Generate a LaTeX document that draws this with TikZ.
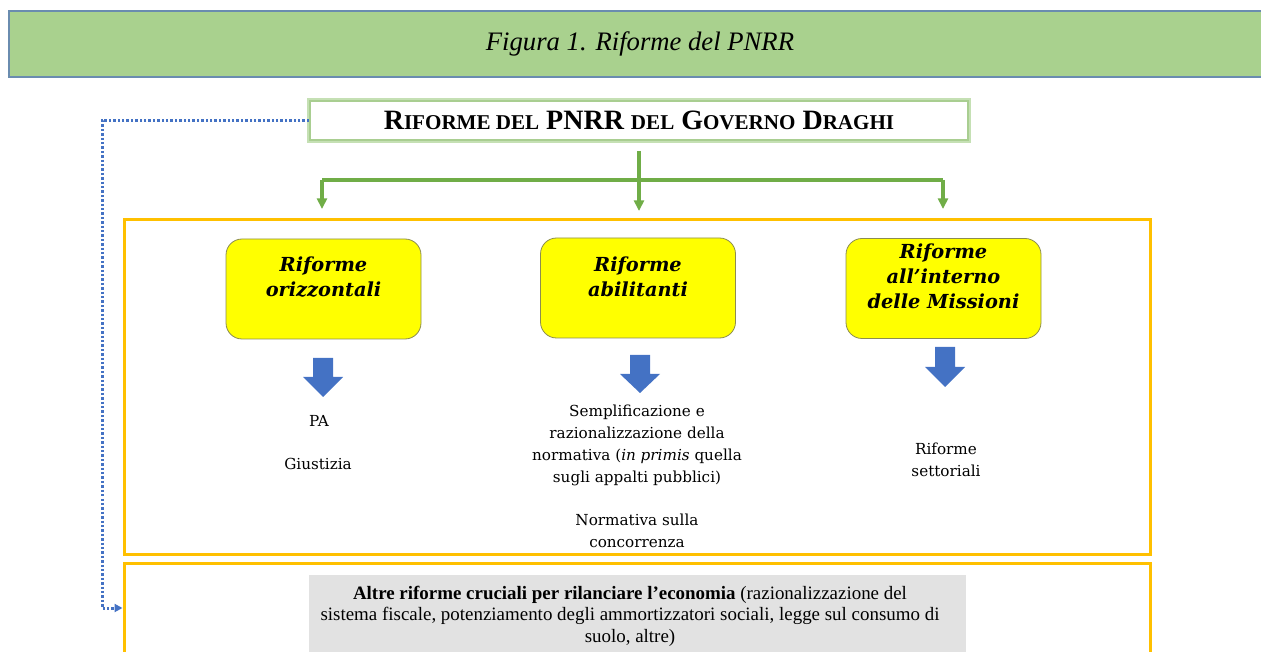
\documentclass[tikz,border=0pt]{standalone}
\usepackage{fontspec}
\setmainfont{DejaVu Serif}
\newfontfamily\libserif{Liberation Serif}
\usetikzlibrary{arrows.meta}
\definecolor{bandgreen}{HTML}{A9D18E}
\definecolor{bandedge}{HTML}{6A8CAF}
\definecolor{lgreen}{HTML}{70AD47}
\definecolor{glowgreen}{HTML}{C5E0B4}
\definecolor{gold}{HTML}{FFC000}
\definecolor{ablue}{HTML}{4472C4}
\definecolor{ybox}{HTML}{FFFF00}
\definecolor{yedge}{HTML}{8C8C50}
\definecolor{greytex}{HTML}{E2E2E2}
\newcommand{\fsc}[2]{#1{\fontsize{15.8}{18}\selectfont #2}}
\tikzset{
  gline/.style={draw=lgreen, line width=2.4pt},
  garrow/.style={gline, -{Triangle[width=7.5pt,length=8pt]}},
  goldbox/.style={draw=gold, line width=2.25pt, minimum width=769.5pt},
  ybox/.style={draw=yedge, fill=ybox, rounded corners=12pt, line width=0.6pt,
    minimum width=146.25pt, minimum height=75pt},
  ytext/.style={align=center, font=\fontsize{14.5}{18.75}\selectfont\bfseries\itshape},
  body/.style={align=center, font=\fontsize{11.4}{16.5}\selectfont},
  blockarrow/.style={fill=ablue},
}
\begin{document}
\begin{tikzpicture}[x=0.75pt,y=-0.75pt]
\useasboundingbox (0,0) rectangle (1261,652);
\clip (0,0) rectangle (1261,652);
% title band
\fill[bandgreen] (9,11) rectangle (1261,77);
\draw[bandedge, line width=0.9pt] (1261,11) -- (9,11) -- (9,77) -- (1261,77);
\node[font=\libserif\itshape\fontsize{20}{24}\selectfont] (title) at (640,44) {Figura 1. Riforme del PNRR};
% top box
\node[draw=lgreen!60, line width=1.2pt, fill=white, minimum width=493.5pt, minimum height=29.25pt,
  preaction={draw=glowgreen, line width=5pt}, font=\libserif\bfseries\fontsize{21}{24}\selectfont]
  (top) at (639,120.5) {\fsc{R}{IFORME DEL} PNRR \fsc{}{DEL} \fsc{G}{OVERNO} \fsc{D}{RAGHI}};
% gold boxes
\node[goldbox, minimum height=250.5pt] (ob1) at (637,387) {};
\node[goldbox, minimum height=120pt] (ob2) at (637,643) {};
% green connectors
\coordinate (jl) at (322,180);
\coordinate (jr) at (943,180);
\coordinate (a1) at (322,209);
\coordinate (a2) at (639,211);
\coordinate (a3) at (943,209);
\draw[garrow] ([yshift=-7.5pt]top.south) -- (a2);
\draw[gline] (jl) -- (jr);
\draw[garrow] (jl) -- (a1);
\draw[garrow] (jr) -- (a3);
% yellow boxes
\node[ybox] (b1) at (323.5,289) {};
\node[ybox] (b2) at (638,288) {};
\node[ybox] (b3) at (943.5,288.5) {};
\node[ytext] (t1) at (323.5,277) {Riforme\\orizzontali};
\node[ytext] (t2) at (638,277) {Riforme\\abilitanti};
\node[ytext] (t3) at (943.5,276.5) {Riforme\\all’interno\\delle Missioni};
% block arrows
\fill[blockarrow] (313,358) -- (333,358) -- (333,377) -- (343,377) -- (323,397) -- (303,377) -- (313,377) -- cycle;
\fill[blockarrow] (630,355) -- (650,355) -- (650,374) -- (660,374) -- (640,393) -- (620,374) -- (630,374) -- cycle;
\fill[blockarrow] (935,347) -- (955,347) -- (955,367) -- (965,367) -- (945,387) -- (925,367) -- (935,367) -- cycle;
% texts
\node[body] (pa) at (319,421) {PA};
\node[body] (giu) at (318,464) {Giustizia};
\node[body] (semp) at (637,445) {Semplificazione e\\razionalizzazione della\\normativa (\textit{in primis} quella\\sugli appalti pubblici)};
\node[body] (conc) at (637,531) {Normativa sulla\\concorrenza};
\node[body] (sett) at (946,459.5) {Riforme\\settoriali};
% grey box
\node[fill=greytex, minimum width=492.75pt, minimum height=90pt, anchor=north west] (grey) at (309,575) {};
\node[align=center, font=\libserif\fontsize{14.2}{16.2}\selectfont] (altre) at (630,616)
  {\textbf{Altre riforme cruciali per rilanciare l’economia} (razionalizzazione del\\sistema fiscale, potenziamento degli ammortizzatori sociali, legge sul consumo di\\suolo, altre)};
% dotted connector
\coordinate (dc) at (102,608);
\draw[draw=ablue, line width=2.25pt, dash pattern=on 1.8pt off 1.5pt, -{Triangle[width=6pt,length=6pt]}]
  (top.west) -| (dc) -- (ob2.west |- dc);
\end{tikzpicture}
\end{document}
